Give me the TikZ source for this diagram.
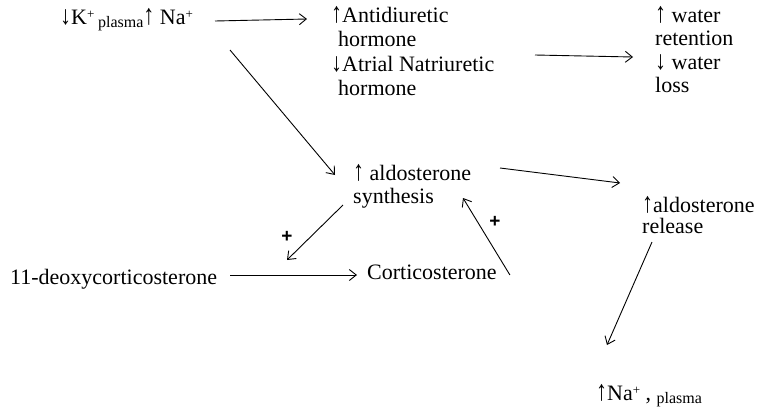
\documentclass[tikz,border=0pt]{standalone}
\usepackage{fontspec}
\setmainfont{Liberation Serif}
\newfontfamily\plusfont{Liberation Sans}
\usetikzlibrary{arrows.meta,calc}
\newcommand{\mysup}[1]{\raisebox{6pt}{\fontsize{13}{13}\selectfont #1}}
\newcommand{\mysub}[1]{\raisebox{-3pt}{\fontsize{16}{16}\selectfont #1}}
\newcommand{\up}{\scalebox{1}[1.3]{↑}}
\newcommand{\dn}{\scalebox{1}[1.2]{↓}}
\tikzset{
  t/.style={anchor=base west,inner sep=0pt,font=\fontsize{22}{24}\selectfont},
  arr/.style={line width=0.9pt,-{Straight Barb[length=7pt,width=11pt,line width=0.9pt]}},
  plus/.style={inner sep=0pt,font=\plusfont\bfseries\fontsize{19}{19}\selectfont}
}
\begin{document}
\begin{tikzpicture}[x=1pt,y=-1pt]
\useasboundingbox (0,0) rectangle (761,410);
% nodes
\node[t] (k) at (60,24) {\dn K\mysup{+}\,\mysub{plasma}\up\ Na\mysup{+}};
\node[t] (adh1) at (331,22) {\up Antidiuretic};
\node[t] (adh2) at (338,46) {hormone};
\node[t] (adh3) at (331,71) {\dn Atrial Natriuretic};
\node[t] (adh4) at (338,95) {hormone};
\node[t] (w1) at (655,22) {\up\ water};
\node[t] (w2) at (655,45) {retention};
\node[t] (w3) at (655,69) {\dn\ water};
\node[t] (w4) at (655,92) {loss};
\node[t] (ald1) at (353,180) {\up\ aldosterone};
\node[t] (ald2) at (353,203) {synthesis};
\node[t] (cort) at (367,279) {Corticosterone};
\node[t] (deoxy) at (10,284) {11-deoxycorticosterone};
\node[t] (rel1) at (642,212) {\up aldosterone};
\node[t] (rel2) at (642,233) {release};
\node[t] (na) at (596,400) {\up Na\mysup{+} , \mysub{plasma}};
\node[plus] (p1) at (287,237) {+};
\node[plus] (p2) at (495,222) {+};
% connectors
\draw[arr] ($(k.base west)+(155,-3)$) -- ($(adh1.base west)+(-24,-3)$);
\draw[arr] ($(k.base west)+(170,26)$) -- ($(ald1.base west)+(-18,-5)$);
\draw[arr] ($(adh2.base west)+(197,9)$) -- ($(w2.base west)+(-22,12)$);
\draw[arr] ($(ald2.base west)+(-10,2)$) -- ($(p1)+(0,23)$);
\draw[arr] ($(cort.base east)+(13,-4)$) -- ($(ald2.base west)+(110,-5)$);
\draw[arr] ($(deoxy.base west)+(220,-9)$) -- ($(cort.base west)+(-10,-4)$);
\draw[arr] ($(ald1.base west)+(147,-12)$) -- ($(rel1.base west)+(-22,-29)$);
\draw[arr] ($(rel2.base west)+(10,9)$) -- ($(na.base west)+(11,-55)$);
\end{tikzpicture}
\end{document}
